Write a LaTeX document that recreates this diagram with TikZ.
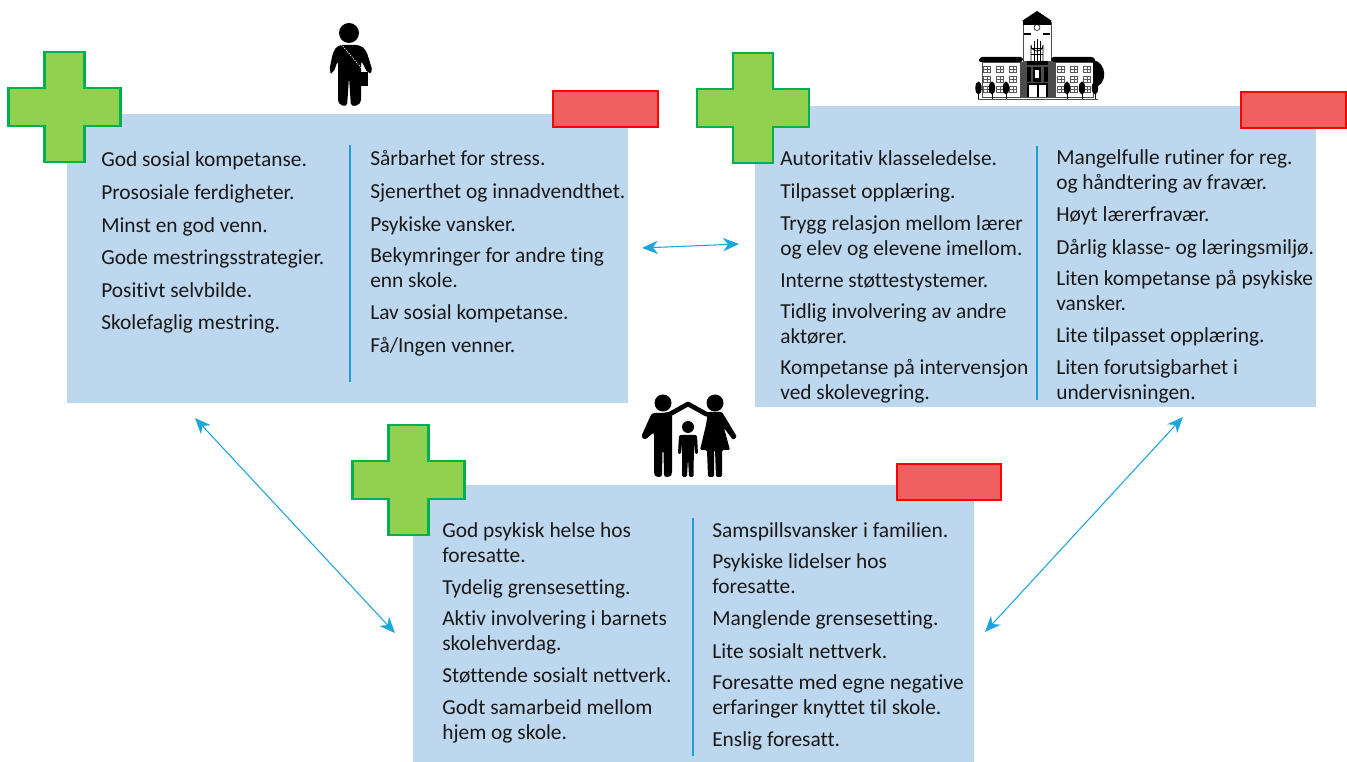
\documentclass[tikz,border=0pt]{standalone}
\usepackage{fontspec}
\usetikzlibrary{arrows.meta}
\setmainfont[RawFeature={-liga;-clig;-dlig}]{Carlito}
\tikzset{
  x=0.75pt,y=-0.75pt,
  panel/.style={fill=boxblue,draw=none},
  minusbar/.style={fill=minusred,draw=pureRed,line width=1.5pt},
  plusshape/.style={fill=plusgreen,draw=plusedge,line width=2pt,line join=miter},
  divider/.style={draw=divblue,line width=1.5pt},
  link/.style={draw=linkblue,line width=0.8pt,{Stealth[length=12pt,width=10pt]}-{Stealth[length=12pt,width=10pt]}},
  item/.style={anchor=west,inner sep=0pt,align=left,yshift=-2.25pt,font=\fontsize{16.05}{18.75}\selectfont,text=black!90,
    execute at begin node={\strut},execute at end node={\strut}},
}
\definecolor{boxblue}{HTML}{BDD7EE}
\definecolor{minusred}{HTML}{F06060}
\definecolor{pureRed}{HTML}{FF0000}
\definecolor{plusgreen}{HTML}{92D050}
\definecolor{plusedge}{HTML}{00B050}
\definecolor{divblue}{HTML}{1F9BD7}
\definecolor{linkblue}{HTML}{1CA5DE}
\newcommand{\plusat}[2]{%
  \draw[plusshape,shift={(#1,#2)}] (36,0)--(76,0)--(76,36)--(112,36)--(112,74)--(76,74)--(76,110)--(36,110)--(36,74)--(0,74)--(0,36)--(36,36)--cycle;}
\begin{document}
\begin{tikzpicture}
\useasboundingbox (0,0) rectangle (1347,762);
% panels
\fill[panel] (67,114) rectangle (628,403);
\fill[panel] (755,106) rectangle (1316,407);
\fill[panel] (413,485) rectangle (974,762);
% plus and minus
\plusat{8.5}{52}
\plusat{697}{53}
\plusat{352.5}{425}
\draw[minusbar] (553,91) rectangle (658,127);
\draw[minusbar] (1241,92) rectangle (1346,128);
\draw[minusbar] (897,464) rectangle (1001,500);
% dividers
\coordinate (d1a) at (350,145); \coordinate (d1b) at (350,382);
\coordinate (d2a) at (1037,146); \coordinate (d2b) at (1037,400);
\coordinate (d3a) at (693,518); \coordinate (d3b) at (693,756);
\draw[divider] (d1a)--(d1b);
\draw[divider] (d2a)--(d2b);
\draw[divider] (d3a)--(d3b);
% links
\coordinate (l1a) at (642,248); \coordinate (l1b) at (739,244);
\coordinate (l2a) at (195,418); \coordinate (l2b) at (395,633);
\coordinate (l3a) at (1183,417); \coordinate (l3b) at (985,632);
\draw[link] (l1a)--(l1b);
\draw[link] (l2a)--(l2b);
\draw[link] (l3a)--(l3b);
% text A left
\node[item] (a1) at (101,159) {God sosial kompetanse.};
\node[item] (a2) at (101,192) {Prososiale ferdigheter.};
\node[item] (a3) at (101,225) {Minst en god venn.};
\node[item] (a4) at (101,257) {Gode mestringsstrategier.};
\node[item] (a5) at (101,290) {Positivt selvbilde.};
\node[item] (a6) at (101,322) {Skolefaglig mestring.};
% text A right
\node[item] (a7) at (370,158) {Sårbarhet for stress.};
\node[item] (a8) at (370,191) {Sjenerthet og innadvendthet.};
\node[item] (a9) at (370,224) {Psykiske vansker.};
\node[item] (a10) at (370,268.5) {Bekymringer for andre ting\\enn skole.};
\node[item] (a11) at (370,312) {Lav sosial kompetanse.};
\node[item] (a12) at (370,345) {Få/Ingen venner.};
% text B left
\node[item] (b1) at (780,158) {Autoritativ klasseledelse.};
\node[item] (b2) at (780,191) {Tilpasset opplæring.};
\node[item] (b3) at (780,236) {Trygg relasjon mellom lærer\\og elev og elevene imellom.};
\node[item] (b4) at (780,280) {Interne støttestystemer.};
\node[item] (b5) at (780,324.5) {Tidlig involvering av andre\\aktører.};
\node[item] (b6) at (780,380) {Kompetanse på intervensjon\\ved skolevegring.};
% text B right
\node[item] (b7) at (1056,170) {Mangelfulle rutiner for reg.\\og håndtering av fravær.};
\node[item] (b8) at (1056,214) {Høyt lærerfravær.};
\node[item] (b9) at (1056,247) {Dårlig klasse- og læringsmiljø.};
\node[item] (b10) at (1056,291) {Liten kompetanse på psykiske\\vansker.};
\node[item] (b11) at (1056,335) {Lite tilpasset opplæring.};
\node[item] (b12) at (1056,380) {Liten forutsigbarhet i\\undervisningen.};
% text C left
\node[item] (c1) at (442,543) {God psykisk helse hos\\foresatte.};
\node[item] (c2) at (442,587) {Tydelig grensesetting.};
\node[item] (c3) at (442,631) {Aktiv involvering i barnets\\skolehverdag.};
\node[item] (c4) at (442,675) {Støttende sosialt nettverk.};
\node[item] (c5) at (442,720) {Godt samarbeid mellom\\hjem og skole.};
% text C right
\node[item] (c6) at (712,530) {Samspillsvansker i familien.};
\node[item] (c7) at (712,574) {Psykiske lidelser hos\\foresatte.};
\node[item] (c8) at (712,618) {Manglende grensesetting.};
\node[item] (c9) at (712,651) {Lite sosialt nettverk.};
\node[item] (c10) at (712,695) {Foresatte med egne negative\\erfaringer knyttet til skole.};
\node[item] (c11) at (712,739) {Enslig foresatt.};
% student icon
\fill (349,33) circle (10);
\fill[rounded corners=3] (338,45)--(360,45)--(366,50)--(373,72)--(368,74)--(361,60)--(361,104)--(351,107)--(349,77)--(347,107)--(338,104)--(338,60)--(333,74)--(329,72)--(333,52)--cycle;
\fill (361,72) rectangle (368,86);
\draw[white,line width=0.7pt,densely dotted] (340,43)--(364,71);
% school icon
\draw[black!70,line width=0.5pt,fill=white] (1023,22) rectangle (1051,61);
\fill (1037,11)--(1022,21)--(1052,21)--cycle;
\fill (1023,21) rectangle (1051,25);
\fill (1024,33) rectangle (1031,35.5);
\fill (1043,33) rectangle (1050,35.5);
\draw[line width=0.4pt] (1037,27.5) circle (3);
\draw[line width=0.6pt,fill=white] (1031,62)--(1031,45) arc (180:0:6) --(1043,62)--cycle;
\draw[line width=0.4pt] (1034,41)--(1034,61) (1037,39)--(1037,61) (1040,41)--(1040,61) (1031,48)--(1043,48) (1031,54)--(1043,54);
\draw[line width=0.5pt,black!70,fill=white] (982,62) rectangle (1093,97);
\fill[rounded corners=2] (978,62)--(980,57)--(1023,57)--(1023,62)--cycle;
\fill[rounded corners=2] (1051,57)--(1094,57)--(1096,62)--(1051,62)--cycle;
\fill (1093,60) .. controls (1107,62) and (1109,85) .. (1093,88)--cycle;
\draw[fill=white,line width=0.4pt,black!70] (1020,62) rectangle (1055,97);
\fill (1027,61) rectangle (1048,65);
\fill (1027,67) rectangle (1031,82);
\fill (1044,67) rectangle (1048,82);
\fill (1033,67) rectangle (1041,82);
\fill[white] (1035,70) rectangle (1039,78);
\fill (1027,83) rectangle (1048,97);
\fill[white] (1029,85) rectangle (1037,97);
\fill[white] (1038.5,85) rectangle (1046,97);
\foreach \wx in {987,1000,1013,1061,1074,1087}{
  \foreach \wy in {66,76,86}{
    \draw[line width=0.35pt,black!65,fill=white] (\wx-3.5,\wy) rectangle (\wx+3.5,\wy+6.5);
    \draw[line width=0.25pt,black!65] (\wx,\wy)--(\wx,\wy+6.5) (\wx-3.5,\wy+3.2)--(\wx+3.5,\wy+3.2);
  }
}
\foreach \tx in {978.5,992,1006,1067,1082,1095}{
  \fill (\tx,88) ellipse (3.2 and 6.5);
  \draw[line width=0.5pt] (\tx,90)--(\tx,100);
}
\draw[line width=0.5pt,black!70] (978,99)--(1098,99);
% family icon
\fill (663,403) circle (8.5);
\fill (715,403) circle (8.5);
\fill (688,427) circle (6);
\draw[line width=3.5pt,line join=round] (655,417)--(670,414)--(688,404)--(706,414)--(722,417);
\fill[rounded corners=2] (652,413)--(672,413)--(672,474)--(670,477)--(664,477)--(663.5,450)--(662.5,450)--(662,477)--(656,477)--(654,474)--(654,432)--(645,440)--(641,437)--(650,417)--cycle;
\fill[rounded corners=1] (708,412)--(722,412)--(737,437)--(733,440)--(724,428)--(730,450)--(722,450)--(722,477)--(716,477)--(715,450)--(714,450)--(714,477)--(708,477)--(707,450)--(700,450)--(706,425)--cycle;
\fill[rounded corners=1] (679,435)--(697,435)--(698,454)--(695,454)--(694,443)--(693.5,477)--(689,477)--(688,458)--(687,477)--(682,477)--(682,443)--(681,454)--(678,454)--cycle;
\end{tikzpicture}
\end{document}
